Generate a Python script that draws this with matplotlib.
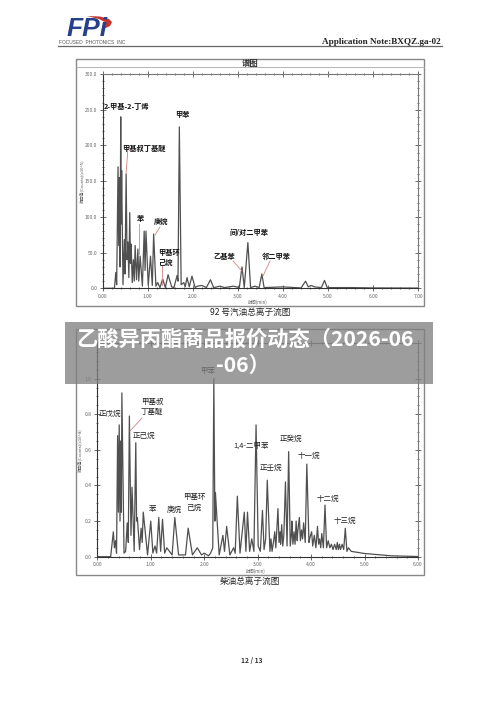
import matplotlib
matplotlib.use("Agg")
import matplotlib.pyplot as plt
from matplotlib.patches import Polygon, Rectangle
from matplotlib.ticker import MultipleLocator

plt.rcParams["font.family"] = ["Noto Sans CJK SC", "DejaVu Sans"]

W, H = 500, 707

# 92 gasoline trace
gas_t = [0.00, 0.26, 0.29, 0.31, 0.34, 0.355, 0.37, 0.385, 0.40, 0.41, 0.42, 0.45, 0.48, 0.495, 0.52,
         0.54, 0.56, 0.58, 0.60, 0.615, 0.63, 0.655, 0.68, 0.70, 0.72, 0.75, 0.78, 0.80, 0.83, 0.88,
         0.92, 0.94, 0.96, 1.01, 1.06, 1.10, 1.13, 1.18, 1.22, 1.27, 1.33, 1.39, 1.45, 1.53, 1.58,
         1.65, 1.67, 1.70, 1.74, 1.80, 1.83, 1.87, 1.92, 1.98, 2.05, 2.10, 2.20, 2.30, 2.39, 2.46,
         2.60, 2.70, 2.90, 3.03, 3.09, 3.14, 3.22, 3.28, 3.38, 3.47, 3.53, 3.58, 3.80, 4.00, 4.40,
         4.50, 4.56, 4.62, 4.70, 4.85, 4.92, 4.98, 5.50, 6.00, 7.00]
gas_v = [0, 0, 22, 5, 170, 60, 155, 30, 240, 90, 165, 5, 68, 20, 160,
         40, 65, 15, 106, 35, 62, 8, 40, 10, 60, 12, 55, 10, 45, 3,
         80, 25, 80, 4, 45, 4, 76, 3, 8, 1, 13, 1, 19, 2, 1,
         18, 10, 226, 5, 8, 2, 15, 2, 17, 1, 3, 4, 1, 12, 1,
         3, 1, 3, 1, 30, 1, 64, 1, 3, 1, 20, 1, 1.5, 2, 0.5,
         10, 2, 4, 2, 1, 11, 1, 1, 0.5, 0.3]

# diesel trace
die_t = [0.00, 0.25, 0.30, 0.32, 0.34, 0.36, 0.38, 0.395, 0.41, 0.425, 0.44, 0.45, 0.46, 0.50, 0.53,
         0.56, 0.58, 0.60, 0.63, 0.65, 0.69, 0.72, 0.735, 0.75, 0.79, 0.82, 0.84, 0.86, 0.94, 1.00,
         1.04, 1.08, 1.11, 1.15, 1.185, 1.22, 1.26, 1.30, 1.40, 1.45, 1.52, 1.65, 1.70, 1.78, 1.87,
         1.95, 2.00, 2.08, 2.12, 2.16, 2.18, 2.20, 2.21, 2.28, 2.35, 2.38, 2.42, 2.48, 2.55, 2.58,
         2.62, 2.67, 2.75, 2.78, 2.81, 2.85, 2.89, 2.93, 2.97, 3.01, 3.05, 3.09, 3.12, 3.15, 3.18, 3.23,
         3.25, 3.27, 3.30, 3.32, 3.34, 3.36, 3.38, 3.40, 3.42, 3.43, 3.45, 3.47, 3.49, 3.52, 3.55, 3.58,
         3.61, 3.63, 3.64, 3.66, 3.68, 3.70, 3.72, 3.74, 3.75, 3.78, 3.80, 3.82, 3.84, 3.86, 3.89, 3.92,
         3.96, 3.98, 4.01, 4.03, 4.06, 4.09, 4.12, 4.14, 4.16, 4.18, 4.20, 4.23, 4.26, 4.29, 4.32, 4.35,
         4.38, 4.41, 4.44, 4.47, 4.49, 4.51, 4.53, 4.55, 4.58, 4.61, 4.64, 4.67, 4.70, 4.75, 5.00, 5.50, 6.00]
die_v = [0, 0, 0.14, 0.05, 0.09, 0.02, 0.68, 0.25, 0.74, 0.20, 0.65, 0.25, 0.92, 0.02, 0.03,
         0.19, 0.08, 0.79, 0.12, 0.39, 0.03, 0.64, 0.20, 0.22, 0.04, 0.16, 0.08, 0.25, 0.01, 0.20,
         0.02, 0.06, 0.02, 0.22, 0.03, 0.21, 0.02, 0.05, 0.01, 0.22, 0.01, 0.01, 0.16, 0.01, 0.05,
         0.01, 0.02, 0.005, 0.02, 0.05, 1.00, 0.20, 0.36, 0.01, 0.12, 0.03, 0.17, 0.01, 0.05, 0.02,
         0.34, 0.02, 0.25, 0.03, 0.25, 0.03, 0.10, 0.03, 0.74, 0.06, 0.03, 0.26, 0.04, 0.10, 0.43, 0.03,
         0.10, 0.03, 0.09, 0.14, 0.05, 0.16, 0.27, 0.08, 0.14, 0.07, 0.18, 0.06, 0.12, 0.42, 0.06, 0.59,
         0.06, 0.12, 0.20, 0.07, 0.14, 0.07, 0.20, 0.09, 0.14, 0.22, 0.09, 0.15, 0.10, 0.19, 0.08, 0.52,
         0.08, 0.11, 0.14, 0.06, 0.12, 0.05, 0.17, 0.07, 0.10, 0.05, 0.13, 0.05, 0.29, 0.05, 0.09, 0.05,
         0.07, 0.04, 0.07, 0.04, 0.08, 0.04, 0.07, 0.04, 0.07, 0.04, 0.16, 0.03, 0.05, 0.03, 0.018, 0.005, 0.001]

gas_labels = [("2-甲基-2-丁烯", 127, 106), ("甲基叔丁基醚", 144, 148), ("苯", 140, 218), ("庚烷", 161, 221),
              ("甲基环", 169, 252), ("己烷", 165, 262), ("甲苯", 182, 114), ("乙基苯", 224, 256),
              ("间/对二甲苯", 249, 232), ("邻二甲苯", 276, 256)]
die_labels = [("正戊烷", 110, 414), ("甲基叔", 152, 402), ("丁基醚", 152, 412), ("正己烷", 144, 436),
              ("苯", 152, 509), ("庚烷", 174, 510), ("甲基环", 194, 497), ("己烷", 194, 508),
              ("甲苯", 208, 371), ("1,4-二甲苯", 251, 446), ("正壬烷", 271, 468), ("正癸烷", 291, 439),
              ("十一烷", 309, 456), ("十二烷", 328, 499), ("十三烷", 345, 521)]
leaders = [(128, 148, 126, 174), (139, 224, 139, 254), (160, 227, 155, 235), (162, 265, 162, 285),
           (233, 261, 242, 271), (270, 261, 263, 276), (142, 418, 130, 431)]
swoosh = [(87, 16), (100, 16.5), (109, 19), (112, 22), (110, 26), (101, 30), (106, 25), (105, 22), (99, 19)]


def px_axes(left, right, top, bottom):
    return fig.add_axes([left / W, 1 - bottom / H, (right - left) / W, (bottom - top) / H])


def style_axes(ax, xmaj, xmin, ymaj, ymin, ymax_label):
    ax.xaxis.set_major_locator(MultipleLocator(xmaj))
    ax.xaxis.set_minor_locator(MultipleLocator(xmin))
    ax.yaxis.set_major_locator(MultipleLocator(ymaj))
    ax.yaxis.set_minor_locator(MultipleLocator(ymin))
    ax.xaxis.set_major_formatter(lambda v, p: f"{v:.2f}")
    ax.yaxis.set_major_formatter(lambda v, p: f"{v:.1f}" if v <= ymax_label else "")
    ax.tick_params(which="both", top=True, right=True, direction="inout", color="#555555", width=0.6)
    ax.tick_params(which="major", length=4, labelsize=3.6, labelcolor="#666666", pad=2)
    ax.tick_params(which="minor", length=2)
    for s in ax.spines.values():
        s.set_linewidth(0.8)
    ax.spines["top"].set_color("#777777")
    ax.spines["right"].set_color("#777777")
    ax.spines["left"].set_color("#333333")
    ax.spines["bottom"].set_color("#333333")


fig = plt.figure(figsize=(W / 100, H / 100), dpi=100)

ax1 = px_axes(102.7, 418.3, 74, 288.3)
ax1.plot(gas_t, gas_v, color="#505050", lw=0.9)
ax1.set_xlim(0, 7)
ax1.set_ylim(0, 300)
style_axes(ax1, 1, 0.2, 50, 10, 300)

ax2 = px_axes(97.3, 418, 343, 556.7)
ax2.plot(die_t, die_v, color="#505050", lw=0.9)
ax2.set_xlim(0, 6)
ax2.set_ylim(0, 1.2)
style_axes(ax2, 1, 0.2, 0.2, 0.05, 1.1)

# page furniture goes on a transparent axes in pixel coordinates
page = fig.add_axes([0, 0, 1, 1], zorder=10)
page.set_xlim(0, W)
page.set_ylim(H, 0)
page.axis("off")

for top, bottom in ((59, 306), (329, 575)):
    page.add_patch(Rectangle((76, top), 348, bottom - top, fill=False, ec="#888888", lw=1.0))

page.plot([58, 442], [46, 46], color="#666666", lw=0.9)
page.plot([76, 424], [67, 67], color="#aaaaaa", lw=0.6)
page.text(441, 41.5, "Application Note:BXQZ.ga-02", family="Liberation Serif", weight="bold",
          fontsize=6.6, ha="right", va="center", color="#222222")

# logo
page.add_patch(Polygon(swoosh, closed=True, color="#c8342c", lw=0))
page.text(87, 29, "FPi", family="Liberation Sans", weight="bold", style="italic", fontsize=19,
          color="#27408b", ha="center", va="center")
page.text(59, 42, "FOCUSED  PHOTONICS  INC", family="Liberation Sans", fontsize=3.5, color="#555555",
          ha="left", va="center")

page.text(250, 63.5, "谱图", fontsize=6, weight="bold", ha="center", va="center", color="#333333")
page.text(250, 312, "92 号汽油总离子流图", fontsize=6.2, ha="center", va="center", weight="medium", color="#222222")
page.text(250, 581, "柴油总离子流图", fontsize=6.2, ha="center", va="center", weight="medium", color="#222222")
page.text(252, 661, "12 / 13", fontsize=4.8, weight="bold", ha="center", va="center", color="#333333")

page.text(82, 181, "响应值(Counts)(x10^5)", fontsize=3, rotation=90, ha="center", va="center", color="#555555")
page.text(80, 450, "响应值(Counts)(x10^8)", fontsize=3, rotation=90, ha="center", va="center", color="#555555")
page.text(258, 302, "时间(min)", fontsize=3.2, ha="center", va="center", color="#666666")
page.text(256, 571, "时间(min)", fontsize=3.2, ha="center", va="center", color="#666666")

for x0, y0, x1, y1 in leaders:
    page.plot([x0, x1], [y0, y1], color="#d98080", lw=0.6)
for name, x, y in gas_labels:
    page.text(x, y, name, fontsize=5.2, weight="bold", ha="center", va="center", color="#111111")
for name, x, y in die_labels:
    page.text(x, y, name, fontsize=5.4, ha="center", va="center", color="#222222")

# grey banner on top of the second chart
page.add_patch(Rectangle((65, 322), 368, 62, color="#808080", alpha=0.77, lw=0, zorder=5))
page.text(245, 339, "乙酸异丙酯商品报价动态（2026-06", fontsize=15.3, weight="bold", color="white",
          ha="center", va="center", zorder=6)
page.text(243, 365, "-06）", fontsize=15.3, weight="bold", color="white", ha="center", va="center", zorder=6)

fig.savefig("out.png", dpi=100)
